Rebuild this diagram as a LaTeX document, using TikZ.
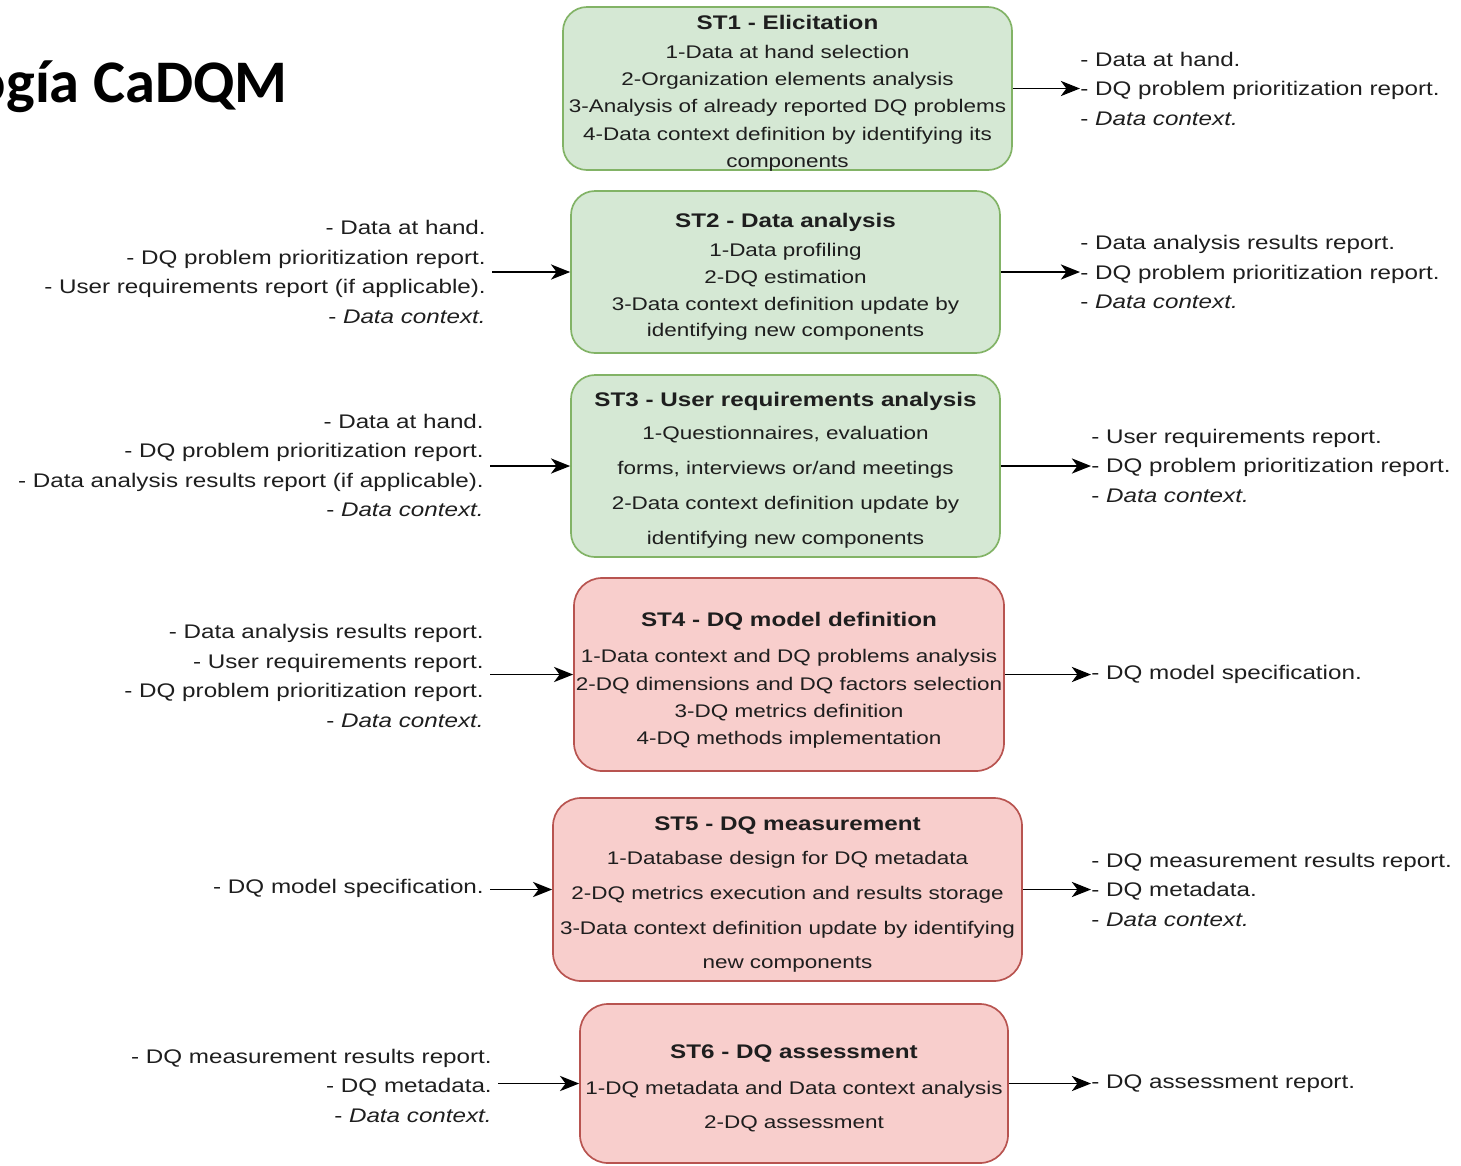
\documentclass[tikz,border=0pt]{standalone}
\usepackage{fontspec}
\setmainfont{Liberation Sans}[FakeStretch=1.23]
\newfontfamily\titlefont{Carlito}
\usetikzlibrary{arrows.meta,fit}

\definecolor{cadgreen}{HTML}{D5E8D4}
\definecolor{cadgreenline}{HTML}{82B366}
\definecolor{cadred}{HTML}{F8CECC}
\definecolor{cadredline}{HTML}{B85450}
\definecolor{cadtext}{HTML}{1E1E1E}

% box heading, a bit larger than the box lines
\newcommand{\steptitle}[1]{{\fontsize{14}{17}\selectfont\bfseries #1}}

\begin{document}
\begin{tikzpicture}[x=0.025cm, y=-0.025cm,
	stepgreen/.style={draw=cadgreenline, fill=cadgreen, line width=1.2pt, rounded corners=0.6cm, inner sep=0pt},
	stepred/.style={draw=cadredline, fill=cadred, line width=1.2pt, rounded corners=0.7cm, inner sep=0pt},
	steptext/.style={align=center, inner sep=0pt, text=cadtext, font=\fontsize{13}{#1}\selectfont},
	intext/.style={align=right, anchor=east, inner sep=0pt, text=cadtext, font=\fontsize{14}{21}\selectfont},
	outtext/.style={align=left, anchor=west, inner sep=0pt, text=cadtext, font=\fontsize{14}{21}\selectfont},
	flow/.style={line width=1.3pt, -{Stealth[length=0.48cm, width=0.38cm, inset=0.14cm]}}]
		
		\useasboundingbox (0,0) rectangle (1461,1165);
		%
		% THE TITLE (CUT AT THE LEFT)
		\begin{scope}
		\clip (0,0) rectangle (1461,1165);
		\node[anchor=base east, inner sep=0pt, font=\titlefont\bfseries\fontsize{43}{43}\selectfont] (title) at (288,102) {ogía CaDQM};
		\end{scope}
		%
		% THE BOXES
		% GREEN
		\node[stepgreen, fit={(563,7) (1012,170)}] (st1) {};
		\node[stepgreen, fit={(571,191) (1000,353)}] (st2) {};
		\node[stepgreen, fit={(571,375) (1000,557)}] (st3) {};
		% RED
		\node[stepred, fit={(574,578) (1004,771)}] (st4) {};
		\node[stepred, fit={(553,798) (1022,981)}] (st5) {};
		\node[stepred, fit={(580,1004) (1008,1163)}] (st6) {};
		%
		% THE BOX TEXTS
		\node[steptext=19.4] (st1txt) at (787.5,93) {\steptitle{ST1 - Elicitation}\\[1.4pt]
			1-Data at hand selection\\2-Organization elements analysis\\3-Analysis of already reported DQ problems\\
			4-Data context definition by identifying its\\components};
		\node[steptext=19] (st2txt) at (785.5,277) {\steptitle{ST2 - Data analysis}\\[1.6pt]
			1-Data profiling\\2-DQ estimation\\3-Data context definition update by\\identifying new components};
		\node[steptext=24.9] (st3txt) at (785.5,470.5) {\steptitle{ST3 - User requirements analysis}\\[-1.4pt]
			1-Questionnaires, evaluation\\forms, interviews or/and meetings\\2-Data context definition update by\\
			identifying new components};
		\node[steptext=19.4] (st4txt) at (789,680.5) {\steptitle{ST4 - DQ model definition}\\[6.2pt]
			1-Data context and DQ problems analysis\\2-DQ dimensions and DQ factors selection\\
			3-DQ metrics definition\\4-DQ methods implementation};
		\node[steptext=24.7] (st5txt) at (787.5,894.5) {\steptitle{ST5 - DQ measurement}\\
			1-Database design for DQ metadata\\2-DQ metrics execution and results storage\\
			3-Data context definition update by identifying\\new components};
		\node[steptext=24.2] (st6txt) at (794,1088.5) {\steptitle{ST6 - DQ assessment}\\[1.4pt]
			1-DQ metadata and Data context analysis\\2-DQ assessment};
		%
		% INPUTS (LEFT)
		\node[intext] (st2in) at (486,272) {- Data at hand.\\- DQ problem prioritization report.\\
			- User requirements report (if applicable).\\- \textit{Data context.}};
		\node[intext] (st3in) at (484,465.5) {- Data at hand.\\- DQ problem prioritization report.\\
			- Data analysis results report (if applicable).\\- \textit{Data context.}};
		\node[intext] (st4in) at (484,676) {- Data analysis results report.\\- User requirements report.\\
			- DQ problem prioritization report.\\- \textit{Data context.}};
		\node[intext] (st5in) at (484,888) {- DQ model specification.};
		\node[intext] (st6in) at (492,1085.5) {- DQ measurement results report.\\- DQ metadata.\\- \textit{Data context.}};
		%
		% OUTPUTS (RIGHT)
		\node[outtext] (st1out) at (1080,88.5) {- Data at hand.\\- DQ problem prioritization report.\\- \textit{Data context.}};
		\node[outtext] (st2out) at (1080,272) {- Data analysis results report.\\- DQ problem prioritization report.\\- \textit{Data context.}};
		\node[outtext] (st3out) at (1091,465.5) {- User requirements report.\\- DQ problem prioritization report.\\- \textit{Data context.}};
		\node[outtext] (st4out) at (1091,674) {- DQ model specification.};
		\node[outtext] (st5out) at (1091,889.5) {- DQ measurement results report.\\- DQ metadata.\\- \textit{Data context.}};
		\node[outtext] (st6out) at (1091,1084) {- DQ assessment report.};
		%
		% THE ARROWS
		% IN
		\draw[flow] ([xshift=0.15cm]st2in.east |- st2.west) -- (st2.west);
		\draw[flow] ([xshift=0.15cm]st3in.east |- st3.west) -- (st3.west);
		\draw[flow] ([xshift=0.15cm]st4in.east |- st4.west) -- (st4.west);
		\draw[flow] ([xshift=0.15cm]st5in.east |- st5.west) -- (st5.west);
		\draw[flow] ([xshift=0.15cm]st6in.east |- st6.west) -- (st6.west);
		% OUT
		\draw[flow] (st1.east) -- (st1.east -| st1out.west);
		\draw[flow] (st2.east) -- (st2.east -| st2out.west);
		\draw[flow] (st3.east) -- (st3.east -| st3out.west);
		\draw[flow] (st4.east) -- (st4.east -| st4out.west);
		\draw[flow] (st5.east) -- (st5.east -| st5out.west);
		\draw[flow] (st6.east) -- (st6.east -| st6out.west);
	\end{tikzpicture}
\end{document}
